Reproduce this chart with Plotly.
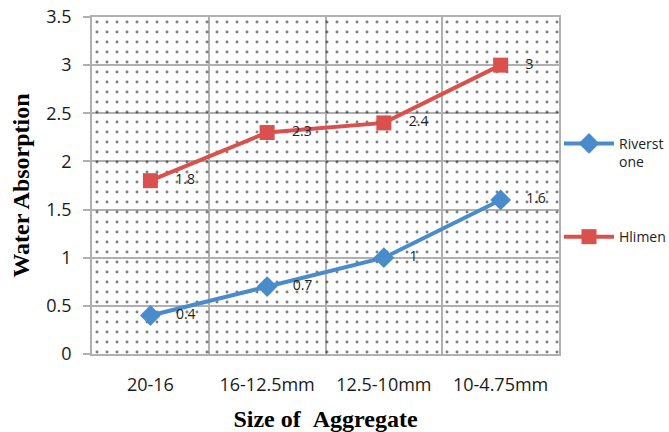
import plotly.graph_objects as go

categories = ["20-16", "16-12.5mm", "12.5-10mm", "10-4.75mm"]
riverstone = [0.4, 0.7, 1, 1.6]
hlimen = [1.8, 2.3, 2.4, 3]
y_max = 3.5

BLUE = "#4a8ccb"
RED = "#d9504d"
GRID = "#b0b0b0"
TICKFONT = dict(family="Open Sans", size=18, color="#1a1a1a")
LABELFONT = dict(family="Open Sans", size=14, color="#222222")
PAD = "\u00a0" * 4

fig = go.Figure()

# dotted plot-area background
fig.add_trace(go.Bar(
    x=categories, y=[y_max] * len(categories), width=1,
    marker=dict(color="rgba(0,0,0,0)", line=dict(width=0),
                pattern=dict(shape=".", fgcolor="black", bgcolor="rgba(0,0,0,0)",
                             size=10, solidity=0.07)),
    hoverinfo="skip", showlegend=False,
))

fig.add_trace(go.Scatter(
    x=categories, y=riverstone, name="Riverst<br>one",
    mode="lines+markers+text", text=[PAD + f"{v:g}" for v in riverstone],
    textposition="middle right", textfont=LABELFONT,
    line=dict(color=BLUE, width=4),
    marker=dict(symbol="diamond", size=16, color=BLUE),
    legend="legend",
))
fig.add_trace(go.Scatter(
    x=categories, y=hlimen, name="Hlimen",
    mode="lines+markers+text", text=[PAD + f"{v:g}" for v in hlimen],
    textposition="middle right", textfont=LABELFONT,
    line=dict(color=RED, width=4),
    marker=dict(symbol="square", size=15, color=RED),
    legend="legend2",
))

fig.update_layout(
    width=669, height=432,
    margin=dict(l=92, r=110, t=17, b=78, autoexpand=False),
    paper_bgcolor="white", plot_bgcolor="white",
    bargap=0,
    font=dict(family="Open Sans"),
    xaxis=dict(
        type="category", range=[-0.5, 3.5], tickson="boundaries",
        showgrid=True, gridcolor=GRID, gridwidth=1.5,
        showline=True, linecolor=GRID, linewidth=1.5, mirror=True,
        ticks="", tickfont=TICKFONT, ticklabelstandoff=14, automargin=False,
        title=dict(text="Size of \u00a0Aggregate", standoff=22,
                   font=dict(family="Liberation Serif", size=24, color="black", weight="bold")),
    ),
    yaxis=dict(
        range=[0, y_max], dtick=0.5,
        showgrid=True, gridcolor=GRID, gridwidth=1.5,
        showline=True, linecolor=GRID, linewidth=1.5, mirror=True,
        ticks="outside", ticklen=7, tickcolor=GRID, tickwidth=1.5,
        tickfont=TICKFONT, zeroline=False, ticklabelstandoff=8, automargin=False,
        title=dict(text="Water Absorption", standoff=10,
                   font=dict(family="Liberation Serif", size=24, color="black", weight="bold")),
    ),
    legend=dict(x=1.0, y=0.597, xanchor="left", yanchor="middle", valign="top",
                itemwidth=50,
                font=dict(family="Open Sans", size=14, color="#222"),
                bgcolor="rgba(0,0,0,0)"),
    legend2=dict(x=1.0, y=0.347, xanchor="left", yanchor="middle",
                 itemwidth=50,
                 font=dict(family="Open Sans", size=14, color="#222"),
                 bgcolor="rgba(0,0,0,0)"),
)

fig.write_html("out.html")
